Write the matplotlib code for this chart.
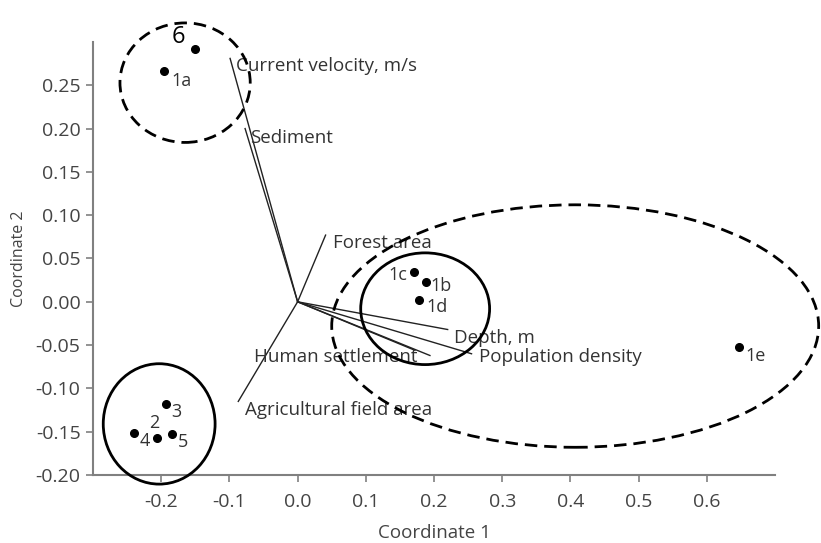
import matplotlib
matplotlib.use('Agg')
import matplotlib.pyplot as plt
from matplotlib.patches import Ellipse

plt.rcParams['font.family'] = ['Open Sans', 'DejaVu Sans']

# site scores
sites = ['6', '1a', '1c', '1b', '1d', '1e', '3', '2', '4', '5']
coord1 = [-0.150, -0.196, 0.170, 0.188, 0.178, 0.647, -0.193, -0.206, -0.240, -0.184]
coord2 = [0.292, 0.267, 0.034, 0.023, 0.002, -0.052, -0.118, -0.157, -0.151, -0.153]

# environmental vectors (end points)
variables = ['Current velocity, m/s', 'Sediment', 'Forest area', 'Depth, m',
             'Population density', 'Human settlement', '', 'Agricultural field area']
vec1 = [-0.099, -0.077, 0.041, 0.220, 0.255, 0.194, 0.172, -0.087]
vec2 = [0.281, 0.200, 0.077, -0.032, -0.060, -0.062, -0.056, -0.115]

# groups: centre x, centre y, width, height, dashed?
grp_x = [-0.165, 0.187, 0.407, -0.203]
grp_y = [0.253, -0.008, -0.028, -0.141]
grp_w = [0.191, 0.189, 0.714, 0.164]
grp_h = [0.138, 0.129, 0.280, 0.139]
grp_dashed = [True, False, True, False]

xticks = [-0.2, -0.1, 0.0, 0.1, 0.2, 0.3, 0.4, 0.5, 0.6]
yticks = [-0.20, -0.15, -0.10, -0.05, 0.00, 0.05, 0.10, 0.15, 0.20, 0.25]

# label offsets in pixels (style only)
site_off = {'6': (-17, 12, 'center'), '1a': (7, -10, 'left'), '1c': (-6, -3, 'right'),
            '1b': (5, -4, 'left'), '1d': (7, -7, 'left'), '1e': (7, -9, 'left'),
            '3': (5, -8, 'left'), '2': (-3, 15, 'center'), '4': (11, -8, 'center'),
            '5': (11, -8, 'center')}
var_off = [(6, -8, 'left'), (5, -9, 'left'), (7, -8, 'left'), (6, -8, 'left'),
           (7, -3, 'left'), (-12, -2, 'right'), (0, 0, 'left'), (7, -9, 'left')]

fig = plt.figure(figsize=(8.21, 5.43), dpi=100)
ax = fig.add_axes([0.1133, 0.1252, 0.8307, 0.7975])

txt = '#333333'
for i, name in enumerate(variables):
    ax.plot([0, vec1[i]], [0, vec2[i]], color='#222222', lw=1.0)
    if name:
        dx, dy, ha = var_off[i]
        ax.annotate(name, (vec1[i], vec2[i]), xytext=(dx, dy), textcoords='offset pixels',
                    ha=ha, va='center', fontsize=13.5, color=txt)

ax.plot(coord1, coord2, 'o', color='black', ms=5.5, zorder=5)
for i, s in enumerate(sites):
    dx, dy, ha = site_off[s]
    fs = 17 if s == '6' else 13
    ax.annotate(s, (coord1[i], coord2[i]), xytext=(dx, dy), textcoords='offset pixels',
                ha=ha, va='center', fontsize=fs, color='black' if s == '6' else txt)

for i in range(len(grp_x)):
    e = Ellipse((grp_x[i], grp_y[i]), grp_w[i], grp_h[i], fill=False, color='black',
                lw=2.0, linestyle=(0, (4.5, 2.5)) if grp_dashed[i] else '-',
                clip_on=False, zorder=4)
    ax.add_patch(e)

ax.set_xlim(-0.3, 0.7)
ax.set_ylim(-0.2, 0.3)
ax.set_xticks(xticks)
ax.set_yticks(yticks)
ax.set_xticklabels([f'{v:.1f}' for v in xticks])
ax.set_yticklabels([f'{v:.2f}' for v in yticks])
ax.spines['top'].set_visible(False)
ax.spines['right'].set_visible(False)
for sp in ['left', 'bottom']:
    ax.spines[sp].set_color('#808080')
    ax.spines[sp].set_linewidth(1.5)
ax.tick_params(direction='out', length=5, width=1.2, color='#808080', labelsize=14,
               labelcolor='#444444', pad=4)
ax.tick_params(axis='x', pad=8)
ax.set_xlabel('Coordinate 1', fontsize=13.5, color='#444444')
ax.set_ylabel('Coordinate 2', fontsize=11.5, color='#444444')
ax.xaxis.set_label_coords(0.5, -0.112)
ax.yaxis.set_label_coords(-0.097, 0.5)

fig.savefig('out.png', dpi=100)
